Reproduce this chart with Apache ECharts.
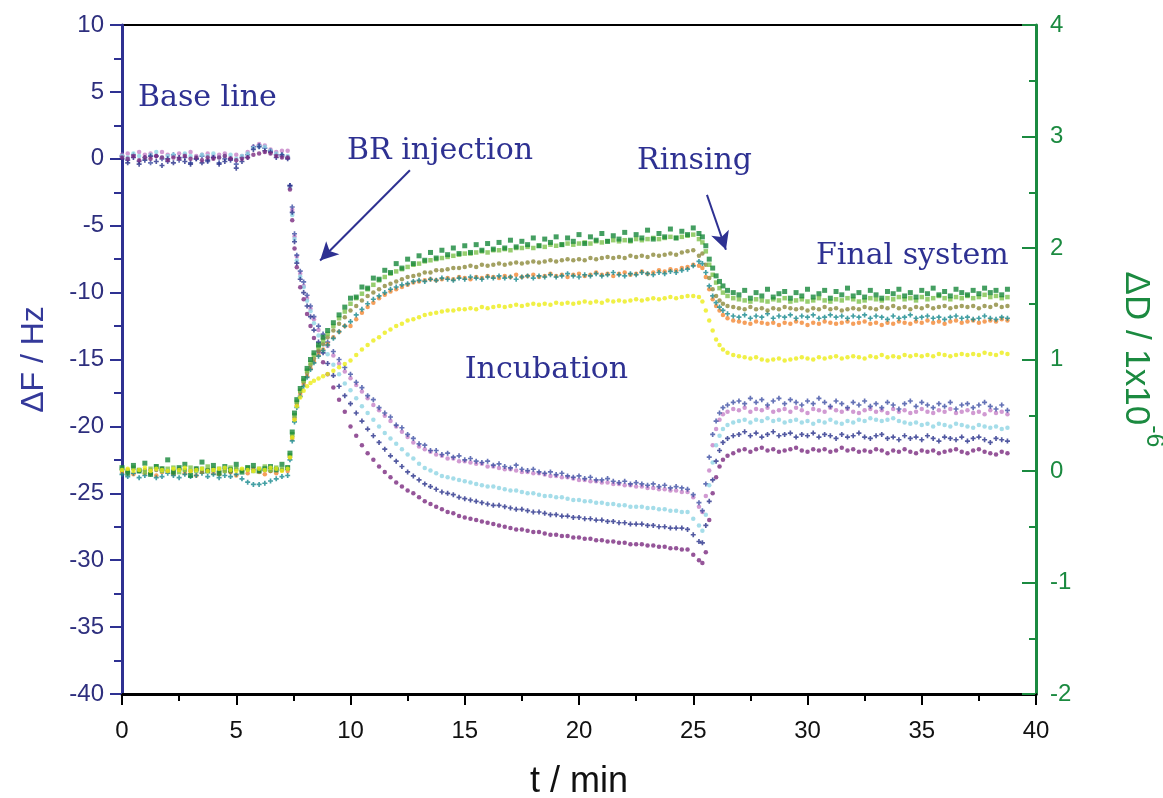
<!DOCTYPE html>
<html>
<head>
<meta charset="utf-8">
<title>QCM-D BR adsorption</title>
<script src="https://cdn.jsdelivr.net/npm/echarts@6/dist/echarts.min.js"></script>
<style>
  html, body { margin: 0; padding: 0; background: #fff; }
  #main { width: 1163px; height: 798px; }
</style>
</head>
<body>
<div id="main"></div>
<script>
// time points (min), shared by all traces
var times = [
  0,0.25,0.5,0.75,1,1.25,1.5,1.75,2,2.25,2.5,2.75,3,3.25,3.5,3.75,4,4.25,4.5,4.75,5,5.25,5.5,5.75,6,6.25,6.5,6.75,7,7.25,
  7.35,7.45,7.55,7.65,7.8,7.95,8.1,8.25,8.4,8.6,8.8,9,9.25,9.5,9.75,
  10,10.25,10.5,10.75,11,11.25,11.5,11.75,12,12.25,12.5,12.75,13,13.25,13.5,13.75,14,14.25,14.5,14.75,
  15,15.25,15.5,15.75,16,16.25,16.5,16.75,17,17.25,17.5,17.75,18,18.25,18.5,18.75,19,19.25,19.5,19.75,
  20,20.25,20.5,20.75,21,21.25,21.5,21.75,22,22.25,22.5,22.75,23,23.25,23.5,23.75,24,24.25,24.5,24.75,25,25.25,
  25.4,25.55,25.7,25.85,26,26.15,26.3,26.5,26.75,
  27,27.25,27.5,27.75,28,28.25,28.5,28.75,29,29.25,29.5,29.75,30,30.25,30.5,30.75,31,31.25,31.5,31.75,
  32,32.25,32.5,32.75,33,33.25,33.5,33.75,34,34.25,34.5,34.75,35,35.25,35.5,35.75,36,36.25,36.5,36.75,
  37,37.25,37.5,37.75,38,38.25,38.5,38.75
];

// frequency shift, Hz (left axis)
var fBlue = [
  0.2,-0.1,0.3,-0.2,0.1,-0.3,0.2,0.0,-0.2,0.3,-0.1,0.1,-0.3,0.0,0.2,-0.2,0.1,-0.3,0.0,-0.1,-0.4,0.1,0.3,0.9,1.0,0.8,0.6,0.3,0.2,0.1,
  -2.0,-3.6,-5.6,-7.2,-8.4,-9.2,-10.2,-11.0,-11.8,-12.5,-13.1,-13.7,-14.4,-15.0,-15.6,
  -16.1,-16.7,-17.1,-17.7,-18.0,-18.6,-19.0,-19.3,-19.9,-20.1,
  -20.6,-20.9,-21.3,-21.4,-21.8,-21.8,-22.1,-22.0,-22.3,-22.2,
  -22.5,-22.4,-22.6,-22.7,-22.6,-22.9,-22.8,-23.0,-23.1,-22.9,
  -23.2,-23.3,-23.2,-23.4,-23.5,-23.4,-23.6,-23.5,-23.7,-23.8,
  -23.7,-23.9,-23.8,-24.0,-24.0,-23.9,-24.1,-24.2,-24.1,-24.3,
  -24.2,-24.3,-24.4,-24.3,-24.5,-24.4,-24.6,-24.5,-24.6,-24.7,
  -25.1,-25.7,
  -26.3,-24.3,-22.3,-20.6,-19.6,-19.0,-18.6,-18.4,-18.2,
  -18.1,-18.3,-17.9,-18.2,-18.0,-18.4,-18.1,-17.9,-18.3,-18.0,-18.2,-18.4,-18.1,-18.3,-17.9,-18.2,-18.5,-18.1,-18.3,-18.6,
  -18.2,-18.4,-18.1,-18.5,-18.3,-18.6,-18.2,-18.4,-18.7,-18.3,-18.1,-18.5,-18.2,-18.4,-18.6,-18.3,-18.5,-18.2,-18.7,-18.4,
  -18.3,-18.6,-18.4,-18.2,-18.5,-18.7,-18.4,-18.8
];
var fPink = [
  0.3,0.4,0.2,0.5,0.3,0.4,0.2,0.5,0.3,0.2,0.4,0.3,0.5,0.2,0.3,0.4,0.2,0.3,0.4,0.1,0.3,0.2,0.5,0.9,1.1,1.0,0.7,0.5,0.6,0.6,
  -2.1,-3.8,-5.8,-7.3,-8.6,-9.5,-10.4,-11.2,-12.0,-12.8,-13.4,-14.0,-14.7,-15.3,-15.9,
  -16.4,-16.9,-17.4,-17.9,-18.4,-18.8,-19.2,-19.6,-20.0,-20.4,
  -20.8,-21.2,-21.5,-21.7,-21.9,-22.1,-22.2,-22.4,-22.4,-22.6,
  -22.6,-22.7,-22.8,-22.8,-23.0,-23.0,-23.1,-23.2,-23.2,-23.3,
  -23.4,-23.4,-23.5,-23.5,-23.6,-23.7,-23.7,-23.8,-23.8,-23.9,
  -24.0,-24.0,-24.1,-24.1,-24.2,-24.2,-24.3,-24.3,-24.4,-24.4,
  -24.5,-24.5,-24.6,-24.6,-24.7,-24.7,-24.8,-24.8,-24.9,-24.9,
  -25.3,-26.0,
  -26.4,-25.2,-23.3,-21.4,-20.2,-19.5,-19.1,-18.9,-18.7,
  -18.8,-18.6,-18.9,-18.7,-18.8,-18.6,-18.9,-18.8,-18.7,-18.9,-18.6,-18.8,-19.0,-18.7,-18.8,-18.9,-18.6,-18.8,-18.9,-18.7,
  -18.9,-19.0,-18.8,-18.7,-18.9,-18.8,-19.0,-18.7,-18.9,-18.8,-19.0,-18.9,-18.7,-18.9,-19.0,-18.8,-18.9,-18.7,-19.0,-18.9,
  -18.8,-19.0,-18.9,-19.1,-18.8,-19.0,-18.9,-19.1
];
var fLightBlue = [
  0.2,0.1,0.4,0.2,0.0,0.3,0.5,0.1,0.2,0.3,0.0,0.4,0.2,0.1,0.3,0.2,0.4,0.1,0.2,0.3,0.0,0.2,0.4,0.8,0.9,0.9,0.6,0.4,0.3,0.2,
  -2.2,-4.2,-6.0,-7.6,-8.8,-9.6,-10.6,-11.4,-12.3,-13.2,-13.9,-14.6,-15.4,-16.1,-16.8,
  -17.3,-17.9,-18.5,-19.0,-19.5,-20.0,-20.5,-20.9,-21.3,-21.7,
  -22.1,-22.4,-22.8,-23.1,-23.3,-23.5,-23.7,-23.8,-23.9,-24.0,
  -24.1,-24.2,-24.3,-24.4,-24.5,-24.5,-24.6,-24.7,-24.8,-24.8,
  -24.9,-25.0,-25.0,-25.1,-25.2,-25.2,-25.3,-25.3,-25.4,-25.5,
  -25.5,-25.6,-25.6,-25.7,-25.7,-25.8,-25.8,-25.9,-25.9,-26.0,
  -26.0,-26.0,-26.1,-26.1,-26.2,-26.2,-26.3,-26.3,-26.4,-26.4,
  -26.9,-27.4,
  -27.8,-26.6,-24.4,-22.7,-21.4,-20.7,-20.2,-19.9,-19.7,
  -19.6,-19.5,-19.7,-19.5,-19.6,-19.4,-19.6,-19.5,-19.7,-19.6,-19.5,-19.7,-19.6,-19.8,-19.6,-19.7,-19.5,-19.7,-19.8,-19.6,
  -19.7,-19.5,-19.6,-19.4,-19.5,-19.6,-19.5,-19.4,-19.6,-19.7,-19.8,-19.7,-19.9,-19.8,-20.0,-19.8,-19.9,-20.0,-19.8,-19.9,
  -20.0,-20.1,-19.9,-20.0,-20.1,-20.0,-20.2,-20.1
];
var fNavy = [
  0.0,-0.3,0.1,-0.4,-0.1,0.2,-0.2,-0.5,0.0,-0.3,0.1,-0.2,-0.4,0.0,-0.3,-0.1,0.1,-0.4,-0.2,0.0,-0.7,-0.2,0.1,0.7,0.9,0.6,0.5,0.1,0.3,0.0,
  -2.0,-4.0,-6.2,-7.8,-9.0,-10.0,-11.0,-11.8,-12.8,-13.7,-14.5,-15.3,-16.2,-17.0,-17.7,
  -18.3,-19.0,-19.6,-20.2,-20.7,-21.2,-21.7,-22.2,-22.6,-23.0,
  -23.4,-23.7,-24.0,-24.3,-24.5,-24.7,-24.9,-25.0,-25.1,-25.3,
  -25.4,-25.5,-25.6,-25.7,-25.8,-25.9,-25.9,-26.0,-26.1,-26.2,
  -26.2,-26.3,-26.4,-26.4,-26.5,-26.6,-26.6,-26.7,-26.7,-26.8,
  -26.8,-26.9,-26.9,-27.0,-27.0,-27.1,-27.1,-27.2,-27.2,-27.3,
  -27.3,-27.3,-27.4,-27.4,-27.5,-27.5,-27.6,-27.6,-27.6,-27.7,
  -28.1,-28.6,
  -28.7,-27.4,-25.6,-24.0,-22.6,-21.8,-21.2,-20.9,-20.7,
  -20.6,-20.4,-20.7,-20.5,-20.8,-20.6,-20.4,-20.7,-20.6,-20.5,-20.8,-20.6,-20.7,-20.5,-20.8,-20.6,-20.7,-20.9,-20.6,-20.8,
  -20.7,-20.5,-20.8,-20.9,-20.7,-20.6,-20.9,-20.8,-21.0,-20.7,-20.9,-20.8,-21.0,-20.7,-20.9,-21.1,-20.8,-20.9,-21.0,-20.8,
  -21.1,-20.9,-20.8,-21.0,-21.2,-20.9,-21.0,-21.1
];
var fPurple = [
  0.1,0.0,0.2,-0.1,0.1,0.0,0.2,0.1,-0.1,0.1,0.0,0.2,0.0,0.1,-0.1,0.1,0.0,0.1,0.2,0.0,-0.1,0.0,0.1,0.3,0.4,0.5,0.4,0.2,0.1,0.1,
  -2.3,-4.6,-6.7,-8.1,-9.6,-10.5,-11.6,-12.5,-13.4,-14.4,-15.2,-16.1,-17.1,-18.0,-18.9,
  -20.0,-20.7,-21.4,-22.0,-22.5,-23.0,-23.4,-23.8,-24.2,-24.5,
  -24.8,-25.0,-25.3,-25.6,-25.8,-26.0,-26.2,-26.4,-26.5,-26.7,
  -26.8,-26.9,-27.0,-27.1,-27.2,-27.3,-27.4,-27.5,-27.6,-27.7,
  -27.7,-27.8,-27.9,-27.9,-28.0,-28.1,-28.1,-28.2,-28.2,-28.3,
  -28.3,-28.4,-28.4,-28.5,-28.5,-28.6,-28.6,-28.7,-28.7,-28.8,
  -28.8,-28.8,-28.9,-28.9,-29.0,-29.0,-29.1,-29.1,-29.2,-29.2,
  -29.6,-30.0,
  -30.2,-29.4,-27.0,-25.0,-23.8,-23.0,-22.5,-22.2,-22.0,
  -21.8,-21.7,-21.9,-21.7,-21.6,-21.8,-21.7,-21.9,-21.8,-21.7,-21.6,-21.8,-21.9,-21.7,-21.8,-21.7,-21.9,-21.8,-21.6,-21.8,
  -21.7,-21.9,-21.8,-21.9,-21.7,-21.8,-22.0,-21.8,-21.9,-21.7,-21.9,-22.0,-21.8,-21.9,-21.8,-22.0,-21.9,-21.8,-21.7,-21.9,
  -22.0,-21.8,-21.7,-21.9,-22.0,-22.1,-21.9,-22.0
];

// dissipation shift, 1e-6 (right axis)
var dDarkGreen = [
  0.03,-0.02,0.05,0.00,0.07,-0.03,0.04,0.02,0.10,-0.01,0.03,0.06,-0.04,0.02,0.08,0.00,0.05,-0.02,0.04,0.01,0.06,-0.01,0.03,0.05,0.00,0.02,0.04,0.01,0.06,0.03,
  0.16,0.35,0.52,0.64,0.74,0.83,0.92,1.00,1.06,1.13,1.20,1.26,1.33,1.40,1.47,
  1.55,1.56,1.65,1.64,1.73,1.72,1.80,1.78,1.86,1.82,
  1.90,1.86,1.93,1.89,1.96,1.91,1.98,1.94,2.00,1.95,
  2.02,1.96,2.03,1.98,2.04,1.99,2.05,2.00,2.07,2.01,
  2.06,2.03,2.09,2.02,2.08,2.05,2.10,2.03,2.09,2.06,
  2.12,2.04,2.10,2.07,2.13,2.06,2.11,2.08,2.14,2.07,
  2.12,2.09,2.16,2.08,2.13,2.10,2.17,2.09,2.15,2.12,
  2.18,2.13,
  2.10,2.02,1.90,1.82,1.75,1.70,1.66,1.62,1.60,
  1.58,1.62,1.55,1.60,1.57,1.63,1.56,1.59,1.61,1.55,1.60,1.57,1.63,1.56,1.59,1.62,1.55,1.61,1.58,1.64,
  1.57,1.60,1.56,1.62,1.58,1.55,1.61,1.59,1.63,1.57,1.60,1.56,1.62,1.59,1.64,1.58,1.61,1.57,1.63,1.60,
  1.58,1.62,1.59,1.64,1.60,1.62,1.58,1.63
];
var dLightGreen = [
  0.02,0.00,0.03,0.01,-0.01,0.02,0.04,0.00,0.02,0.03,-0.01,0.01,0.03,0.00,0.02,0.04,0.01,0.02,0.00,0.03,0.02,0.01,0.03,0.00,0.02,0.04,0.01,0.03,0.02,0.03,
  0.14,0.33,0.50,0.62,0.72,0.81,0.90,0.97,1.04,1.11,1.17,1.23,1.30,1.37,1.43,
  1.50,1.55,1.59,1.63,1.67,1.71,1.74,1.77,1.79,1.81,
  1.83,1.85,1.86,1.88,1.89,1.90,1.91,1.92,1.93,1.94,
  1.95,1.95,1.96,1.97,1.96,1.98,1.98,1.99,1.98,2.00,
  2.00,2.01,2.00,2.02,2.01,2.03,2.02,2.03,2.04,2.03,
  2.04,2.05,2.04,2.06,2.05,2.06,2.07,2.06,2.07,2.06,
  2.08,2.07,2.08,2.09,2.08,2.09,2.10,2.09,2.10,2.11,
  2.12,2.08,
  2.05,1.97,1.85,1.76,1.69,1.64,1.60,1.57,1.55,
  1.54,1.53,1.52,1.54,1.53,1.52,1.54,1.53,1.55,1.52,1.53,1.54,1.52,1.53,1.55,1.53,1.52,1.54,1.53,1.55,
  1.54,1.52,1.53,1.55,1.54,1.53,1.55,1.54,1.56,1.54,1.55,1.53,1.56,1.54,1.55,1.57,1.55,1.54,1.56,1.55,
  1.57,1.55,1.56,1.58,1.56,1.57,1.55,1.56
];
var dOlive = [
  0.01,-0.01,0.02,0.00,0.01,-0.02,0.01,0.02,0.00,-0.01,0.02,0.01,0.00,0.02,-0.01,0.01,0.02,0.00,0.01,-0.01,0.02,0.00,0.01,0.02,0.00,0.01,0.00,0.02,0.01,0.02,
  0.13,0.31,0.48,0.61,0.71,0.80,0.88,0.95,1.01,1.08,1.14,1.20,1.26,1.32,1.38,
  1.44,1.48,1.53,1.57,1.60,1.63,1.66,1.68,1.70,1.72,
  1.74,1.75,1.76,1.78,1.78,1.80,1.80,1.81,1.82,1.82,
  1.83,1.84,1.83,1.85,1.84,1.85,1.86,1.85,1.86,1.87,
  1.86,1.87,1.88,1.87,1.88,1.89,1.88,1.89,1.90,1.89,
  1.90,1.89,1.91,1.90,1.91,1.92,1.91,1.92,1.91,1.93,
  1.92,1.93,1.92,1.94,1.93,1.94,1.95,1.94,1.96,1.97,
  1.98,1.93,
  1.95,1.85,1.73,1.63,1.57,1.53,1.50,1.48,1.47,
  1.46,1.45,1.47,1.45,1.46,1.44,1.46,1.45,1.47,1.46,1.45,1.46,1.44,1.46,1.45,1.47,1.45,1.46,1.44,1.45,
  1.46,1.45,1.47,1.46,1.45,1.47,1.46,1.48,1.46,1.47,1.45,1.47,1.46,1.48,1.46,1.47,1.48,1.46,1.47,1.48,
  1.47,1.48,1.46,1.48,1.47,1.49,1.47,1.48
];
var dTeal = [
  -0.03,-0.05,-0.02,-0.06,-0.04,-0.03,-0.06,-0.05,-0.02,-0.04,-0.06,-0.03,-0.05,-0.04,-0.02,-0.05,-0.03,-0.06,-0.04,-0.05,-0.03,-0.07,-0.10,-0.12,-0.12,-0.11,-0.09,-0.07,-0.05,-0.04,
  0.10,0.27,0.44,0.57,0.67,0.76,0.84,0.91,0.97,1.03,1.08,1.13,1.19,1.25,1.30,
  1.34,1.40,1.45,1.50,1.54,1.57,1.60,1.63,1.65,1.67,
  1.68,1.70,1.71,1.70,1.72,1.71,1.73,1.72,1.71,1.73,
  1.72,1.74,1.73,1.72,1.74,1.73,1.75,1.73,1.74,1.72,
  1.74,1.75,1.73,1.75,1.74,1.76,1.74,1.75,1.77,1.75,
  1.74,1.76,1.75,1.77,1.75,1.76,1.78,1.76,1.75,1.77,
  1.76,1.78,1.77,1.76,1.78,1.77,1.79,1.78,1.80,1.81,
  1.84,1.88,
  1.86,1.78,1.66,1.57,1.51,1.47,1.44,1.41,1.39,
  1.38,1.40,1.37,1.39,1.38,1.41,1.37,1.39,1.38,1.40,1.37,1.39,1.38,1.40,1.37,1.38,1.40,1.38,1.39,1.37,
  1.39,1.38,1.40,1.37,1.39,1.38,1.36,1.39,1.37,1.38,1.40,1.37,1.38,1.39,1.37,1.38,1.36,1.38,1.39,1.37,
  1.38,1.36,1.37,1.39,1.37,1.36,1.38,1.37
];
var dOrange = [
  -0.01,0.01,-0.03,0.00,-0.02,0.01,-0.04,-0.01,0.00,-0.03,0.01,-0.02,0.00,-0.04,-0.01,0.01,-0.02,-0.03,0.00,-0.01,-0.04,0.00,-0.02,0.01,-0.01,-0.03,0.00,-0.02,0.01,0.00,
  0.12,0.29,0.46,0.59,0.69,0.78,0.85,0.92,0.98,1.04,1.09,1.14,1.20,1.25,1.30,
  1.30,1.36,1.42,1.47,1.51,1.55,1.58,1.61,1.63,1.65,
  1.67,1.69,1.70,1.71,1.72,1.71,1.72,1.73,1.72,1.74,
  1.73,1.72,1.74,1.73,1.75,1.74,1.73,1.75,1.74,1.76,
  1.74,1.75,1.76,1.74,1.75,1.77,1.75,1.76,1.74,1.76,
  1.77,1.75,1.76,1.78,1.76,1.77,1.75,1.77,1.78,1.76,
  1.77,1.79,1.77,1.78,1.80,1.79,1.81,1.80,1.82,1.83,
  1.85,1.84,
  1.82,1.74,1.63,1.54,1.48,1.44,1.40,1.37,1.35,
  1.34,1.33,1.32,1.34,1.33,1.32,1.33,1.31,1.33,1.32,1.34,1.33,1.31,1.33,1.32,1.34,1.33,1.32,1.33,1.34,
  1.32,1.33,1.34,1.32,1.33,1.31,1.33,1.32,1.34,1.33,1.32,1.34,1.33,1.35,1.33,1.34,1.32,1.34,1.35,1.33,
  1.34,1.35,1.33,1.34,1.35,1.34,1.36,1.35
];
var dYellow = [
  0.01,0.02,0.00,0.01,0.03,0.00,0.02,0.01,0.00,0.02,0.01,0.03,0.00,0.01,0.02,0.00,0.01,0.02,0.03,0.01,0.00,0.02,0.01,0.00,0.02,0.01,0.03,0.02,0.00,0.02,
  0.12,0.30,0.46,0.58,0.66,0.72,0.76,0.79,0.81,0.83,0.85,0.87,0.90,0.93,0.96,
  0.99,1.04,1.09,1.13,1.17,1.20,1.24,1.27,1.30,1.32,
  1.35,1.36,1.38,1.40,1.41,1.42,1.43,1.44,1.44,1.45,
  1.45,1.46,1.45,1.47,1.46,1.47,1.48,1.47,1.48,1.49,
  1.48,1.49,1.50,1.49,1.50,1.49,1.51,1.50,1.51,1.50,
  1.51,1.52,1.51,1.52,1.51,1.53,1.52,1.53,1.52,1.53,
  1.54,1.53,1.54,1.55,1.54,1.55,1.56,1.55,1.56,1.57,
  1.57,1.56,
  1.52,1.44,1.35,1.26,1.18,1.13,1.09,1.06,1.04,
  1.03,1.02,1.01,1.02,1.00,0.99,1.00,1.01,0.99,1.00,1.01,1.02,1.01,1.00,1.02,1.01,1.02,1.03,1.01,1.02,
  1.03,1.02,1.01,1.03,1.02,1.04,1.02,1.03,1.02,1.04,1.03,1.04,1.03,1.04,1.03,1.05,1.04,1.03,1.04,1.05,
  1.04,1.05,1.04,1.06,1.05,1.04,1.06,1.05
];

// text notes and arrows, in data units of the left axis
var notes = [
  { text: 'Base line', t: 0.7, f: 4.5 },
  { text: 'BR injection', t: 9.85, f: 0.6 },
  { text: 'Rinsing', t: 22.54, f: -0.2 },
  { text: 'Incubation', t: 15.0, f: -15.8 },
  { text: 'Final system', t: 30.37, f: -7.3 }
];
var arrows = [
  [[12.6, -0.85], [8.67, -7.6]],
  [[25.6, -2.7], [26.43, -6.8]]
];

var blueDark = '#2e3192';
var green = '#1b8a40';
var plus = 'path://M1,0H2V1H3V2H2V3H1V2H0V1H1Z';

var chart = echarts.init(document.getElementById('main'));

function pairs(ys) {
  return times.map(function (t, i) { return [t, ys[i]]; });
}
function dots(name, ys, color, axis, symbol, size) {
  return {
    name: name,
    type: 'scatter',
    yAxisIndex: axis,
    data: pairs(ys),
    symbol: symbol,
    symbolSize: size,
    itemStyle: { color: color },
    silent: true
  };
}

var series = [
  dots('fPink', fPink, '#c681c7', 0, 'circle', 4.5),
  dots('fBlue', fBlue, '#3d4fa4', 0, plus, 5),
  dots('fLightBlue', fLightBlue, '#8fd4e4', 0, 'circle', 4.5),
  dots('fNavy', fNavy, '#27308a', 0, plus, 5),
  dots('fPurple', fPurple, '#7b2b80', 0, 'circle', 4.5),
  dots('dOrange', dOrange, '#f28733', 1, 'circle', 4.5),
  dots('dTeal', dTeal, '#15888d', 1, plus, 5),
  dots('dOlive', dOlive, '#8c8a3b', 1, 'circle', 4.5),
  dots('dLightGreen', dLightGreen, '#7dc24b', 1, 'rect', 4.5),
  dots('dDarkGreen', dDarkGreen, '#15873a', 1, 'rect', 5),
  dots('dYellow', dYellow, '#ecec18', 1, 'circle', 4.5)
];

series[1].markLine = {
  silent: true,
  animation: false,
  symbol: ['none', 'arrow'],
  symbolSize: [14, 18],
  lineStyle: { color: blueDark, width: 2, type: 'solid' },
  label: { show: false },
  data: arrows.map(function (a) {
    return [{ coord: a[0] }, { coord: a[1] }];
  })
};

var option = {
  animation: false,
  backgroundColor: '#fff',
  grid: {
    left: 122, right: 127, top: 25, bottom: 104,
    show: true, borderColor: '#000', borderWidth: 2,
    outerBoundsMode: 'none'
  },
  xAxis: {
    type: 'value',
    min: 0, max: 40, interval: 5,
    name: 't / min',
    nameLocation: 'middle',
    nameGap: 70,
    nameTextStyle: { color: '#111', fontSize: 36, fontFamily: 'Liberation Sans' },
    axisLine: { onZero: false, lineStyle: { color: '#000', width: 3 } },
    axisTick: { length: 11, lineStyle: { color: '#000', width: 2 } },
    minorTick: { show: true, splitNumber: 2, length: 7, lineStyle: { color: '#000', width: 2 } },
    axisLabel: { color: '#111', fontSize: 24, fontFamily: 'Liberation Sans', margin: 25 },
    splitLine: { show: false }
  },
  yAxis: [
    {
      type: 'value',
      position: 'left',
      min: -40, max: 10, interval: 5,
      name: 'ΔF / Hz',
      nameLocation: 'middle',
      nameRotate: 90,
      nameGap: 72,
      nameTextStyle: { color: '#34399a', fontSize: 32, fontFamily: 'Liberation Sans' },
      axisLine: { onZero: false, lineStyle: { color: blueDark, width: 3 } },
      axisTick: { length: 12, lineStyle: { color: blueDark, width: 2 } },
      minorTick: { show: true, splitNumber: 2, length: 8, lineStyle: { color: blueDark, width: 2 } },
      axisLabel: { color: '#2e2f7e', fontSize: 24, fontFamily: 'Liberation Sans', margin: 18 },
      splitLine: { show: false }
    },
    {
      type: 'value',
      position: 'right',
      min: -2, max: 4, interval: 1,
      name: '{m|ΔD / 1x10}{s|-6}',
      nameLocation: 'middle',
      nameRotate: -90,
      nameGap: 82,
      nameTextStyle: {
        color: green, fontSize: 35, fontFamily: 'Liberation Sans',
        rich: {
          m: { color: green, fontSize: 35, fontFamily: 'Liberation Sans', lineHeight: 48, verticalAlign: 'bottom' },
          s: { color: green, fontSize: 25, fontFamily: 'Liberation Sans', lineHeight: 48, verticalAlign: 'top' }
        }
      },
      axisLine: { onZero: false, lineStyle: { color: green, width: 3 } },
      axisTick: { inside: true, length: 14, lineStyle: { color: green, width: 2 } },
      minorTick: { show: true, splitNumber: 2, length: 7, lineStyle: { color: green, width: 2 } },
      axisLabel: { color: green, fontSize: 24, fontFamily: 'Liberation Sans', margin: 14 },
      splitLine: { show: false }
    }
  ],
  series: series
};

chart.setOption(option);

// place the text notes through the chart's own coordinate conversion
chart.setOption({
  graphic: notes.map(function (n) {
    var p = chart.convertToPixel({ xAxisIndex: 0, yAxisIndex: 0 }, [n.t, n.f]);
    return {
      type: 'text',
      x: p[0],
      y: p[1],
      silent: true,
      z: 100,
      style: {
        text: n.text,
        fill: blueDark,
        fontSize: 30,
        fontFamily: 'DejaVu Serif',
        align: 'left',
        verticalAlign: 'middle'
      }
    };
  })
});
</script>
</body>
</html>
